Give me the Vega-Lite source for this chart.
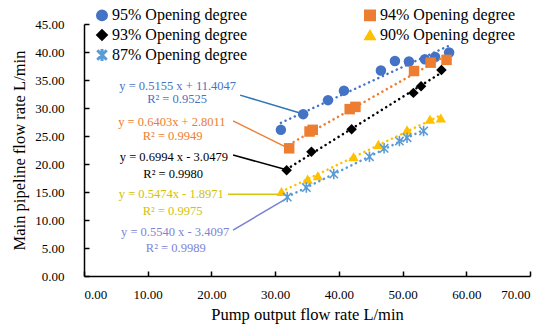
{
  "$schema": "https://vega.github.io/schema/vega-lite/v6.json",
  "width": 446,
  "height": 252,
  "autosize": "none",
  "padding": {"left": 84, "top": 24, "right": 20, "bottom": 53},
  "background": "white",
  "config": {
    "view": {"stroke": null},
    "font": "Liberation Serif",
    "axis": {
      "grid": false,
      "domainColor": "black",
      "domainWidth": 1.5,
      "tickColor": "black",
      "tickWidth": 1.5,
      "tickSize": -5,
      "labelFont": "Liberation Serif",
      "labelFontSize": 13,
      "labelColor": "black",
      "titleFont": "Liberation Serif",
      "titleFontSize": 16.5,
      "titleFontWeight": "normal",
      "titleColor": "black"
    }
  },
  "datasets": {
    "pts": [
      {"series": "95% Opening degree", "x": 30.9, "y": 26.1},
      {"series": "95% Opening degree", "x": 34.4, "y": 28.9},
      {"series": "95% Opening degree", "x": 38.3, "y": 31.4},
      {"series": "95% Opening degree", "x": 40.8, "y": 33.1},
      {"series": "95% Opening degree", "x": 46.6, "y": 36.7},
      {"series": "95% Opening degree", "x": 48.8, "y": 38.4},
      {"series": "95% Opening degree", "x": 51.0, "y": 38.3},
      {"series": "95% Opening degree", "x": 53.5, "y": 38.7},
      {"series": "95% Opening degree", "x": 55.1, "y": 39.1},
      {"series": "95% Opening degree", "x": 57.3, "y": 39.9},
      {"series": "94% Opening degree", "x": 32.2, "y": 22.8},
      {"series": "94% Opening degree", "x": 35.4, "y": 25.8},
      {"series": "94% Opening degree", "x": 35.9, "y": 26.1},
      {"series": "94% Opening degree", "x": 41.7, "y": 29.8},
      {"series": "94% Opening degree", "x": 42.6, "y": 30.2},
      {"series": "94% Opening degree", "x": 51.8, "y": 36.6},
      {"series": "94% Opening degree", "x": 54.4, "y": 38.1},
      {"series": "94% Opening degree", "x": 56.9, "y": 38.6},
      {"series": "93% Opening degree", "x": 31.8, "y": 18.9},
      {"series": "93% Opening degree", "x": 35.7, "y": 22.2},
      {"series": "93% Opening degree", "x": 42.0, "y": 26.2},
      {"series": "93% Opening degree", "x": 51.7, "y": 32.7},
      {"series": "93% Opening degree", "x": 52.9, "y": 33.9},
      {"series": "93% Opening degree", "x": 56.1, "y": 36.8},
      {"series": "90% Opening degree", "x": 31.0, "y": 15.1},
      {"series": "90% Opening degree", "x": 35.1, "y": 17.3},
      {"series": "90% Opening degree", "x": 36.7, "y": 17.9},
      {"series": "90% Opening degree", "x": 42.3, "y": 21.3},
      {"series": "90% Opening degree", "x": 46.2, "y": 23.5},
      {"series": "90% Opening degree", "x": 50.7, "y": 26.1},
      {"series": "90% Opening degree", "x": 54.3, "y": 28.0},
      {"series": "90% Opening degree", "x": 56.0, "y": 28.2},
      {"series": "87% Opening degree", "x": 31.9, "y": 14.1},
      {"series": "87% Opening degree", "x": 34.9, "y": 15.8},
      {"series": "87% Opening degree", "x": 39.2, "y": 18.2},
      {"series": "87% Opening degree", "x": 44.8, "y": 21.3},
      {"series": "87% Opening degree", "x": 47.1, "y": 22.8},
      {"series": "87% Opening degree", "x": 49.5, "y": 24.1},
      {"series": "87% Opening degree", "x": 50.7, "y": 24.7},
      {"series": "87% Opening degree", "x": 53.3, "y": 25.9}
    ],
    "labels": [
      {"series": "95% Opening degree", "x": 14.7, "y": 34.0, "text": "y = 0.5155 x + 11.4047"},
      {"series": "95% Opening degree", "x": 14.6, "y": 31.6, "text": "R² = 0.9525"},
      {"series": "94% Opening degree", "x": 13.8, "y": 27.45, "text": "y = 0.6403x + 2.8011"},
      {"series": "94% Opening degree", "x": 13.9, "y": 25.05, "text": "R² = 0.9949"},
      {"series": "93% Opening degree", "x": 14.1, "y": 21.3, "text": "y = 0.6994 x - 3.0479"},
      {"series": "93% Opening degree", "x": 14.0, "y": 18.3, "text": "R² = 0.9980"},
      {"series": "90% Opening degree", "x": 13.7, "y": 14.6, "text": "y = 0.5474x - 1.8971"},
      {"series": "90% Opening degree", "x": 13.9, "y": 11.6, "text": "R² = 0.9975"},
      {"series": "87% Opening degree", "x": 14.3, "y": 7.9, "text": "y = 0.5540 x - 3.4097"},
      {"series": "87% Opening degree", "x": 14.4, "y": 5.05, "text": "R² = 0.9989"}
    ],
    "leaders": [
      {"series": "95% Opening degree", "x": 24.5, "y": 32.3},
      {"series": "95% Opening degree", "x": 33.9, "y": 29.1},
      {"series": "94% Opening degree", "x": 23.4, "y": 27.7},
      {"series": "94% Opening degree", "x": 32.1, "y": 22.8},
      {"series": "93% Opening degree", "x": 23.4, "y": 21.6},
      {"series": "93% Opening degree", "x": 31.5, "y": 19.05},
      {"series": "90% Opening degree", "x": 22.6, "y": 14.6},
      {"series": "90% Opening degree", "x": 30.8, "y": 14.6},
      {"series": "87% Opening degree", "x": 23.4, "y": 8.2},
      {"series": "87% Opening degree", "x": 32.1, "y": 14.05}
    ]
  },
  "encoding": {
    "x": {
      "field": "x",
      "type": "quantitative",
      "scale": {"domain": [0, 70], "nice": false, "zero": false},
      "axis": {
        "values": [0, 10, 20, 30, 40, 50, 60, 70],
        "format": ".2f",
        "labelPadding": 17,
        "title": "Pump output flow rate L/min",
        "titlePadding": 5
      }
    },
    "y": {
      "field": "y",
      "type": "quantitative",
      "scale": {"domain": [0, 45], "nice": false, "zero": false},
      "axis": {
        "values": [0, 5, 10, 15, 20, 25, 30, 35, 40, 45],
        "format": ".2f",
        "labelPadding": 25,
        "title": "Main pipeline flow rate L/min",
        "titlePadding": 7
      }
    }
  },
  "layer": [
    {
      "data": {"name": "leaders"},
      "mark": {"type": "line", "strokeWidth": 1.5},
      "encoding": {
        "detail": {"field": "series"},
        "stroke": {
          "field": "series",
          "type": "nominal",
          "scale": {
            "domain": ["95% Opening degree", "94% Opening degree", "93% Opening degree", "90% Opening degree", "87% Opening degree"],
            "range": ["#2E75B6", "#ED7D31", "#000000", "#D6C80A", "#7B80D2"]
          },
          "legend": null
        }
      }
    },
    {
      "data": {"name": "labels"},
      "mark": {"type": "text", "font": "Liberation Serif", "fontSize": 12.5, "align": "center", "baseline": "middle"},
      "encoding": {
        "text": {"field": "text"},
        "fill": {
          "field": "series",
          "type": "nominal",
          "scale": {
            "domain": ["95% Opening degree", "94% Opening degree", "93% Opening degree", "90% Opening degree", "87% Opening degree"],
            "range": ["#4A72C4", "#ED7D31", "#000000", "#CFC20A", "#7D84D6"]
          },
          "legend": null
        }
      }
    },
    {
      "data": {"name": "pts"},
      "mark": {"type": "point", "filled": true, "opacity": 1, "size": 110},
      "encoding": {
        "color": {
          "field": "series",
          "type": "nominal",
          "scale": {
            "domain": ["95% Opening degree", "93% Opening degree", "87% Opening degree", "94% Opening degree", "90% Opening degree"],
            "range": ["#4472C4", "#000000", "#5B9BD5", "#ED7D31", "#FFC000"]
          },
          "legend": {
            "orient": "none",
            "legendX": 10,
            "legendY": -17,
            "columns": 2,
            "columnPadding": 113,
            "rowPadding": 2,
            "title": null,
            "labelFont": "Liberation Serif",
            "labelFontSize": 16,
            "labelColor": "black",
            "symbolSize": 110,
            "labelOffset": 2
          }
        },
        "shape": {
          "field": "series",
          "type": "nominal",
          "scale": {
            "domain": ["95% Opening degree", "93% Opening degree", "87% Opening degree", "94% Opening degree", "90% Opening degree"],
            "range": ["circle", "diamond", "M-0.15,-1L0.15,-1L0.15,1L-0.15,1ZM-0.694,-0.906L0.906,0.694L0.694,0.906L-0.906,-0.694ZM0.694,-0.906L0.906,-0.694L-0.694,0.906L-0.906,0.694Z", "square", "triangle-up"]
          }
        }
      }
    },
    {
      "data": {"name": "pts"},
      "transform": [{"regression": "y", "on": "x", "groupby": ["series"]}],
      "mark": {"type": "line", "strokeWidth": 2.5, "strokeDash": [0.1, 5], "strokeCap": "round"},
      "encoding": {
        "color": {"field": "series", "type": "nominal"}
      }
    }
  ]
}
